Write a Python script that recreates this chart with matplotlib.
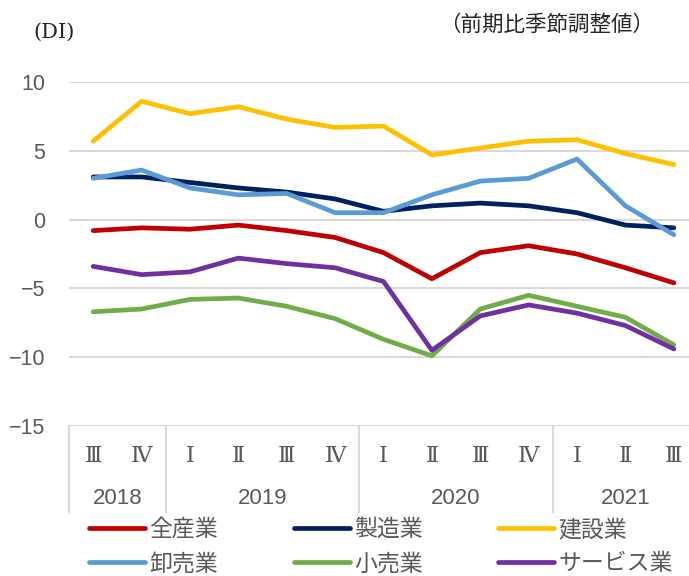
import numpy as np
import matplotlib
matplotlib.use("Agg")
from matplotlib import pyplot as plt

# quarters 2018 III .. 2021 III
quarters = ["Ⅲ", "Ⅳ", "Ⅰ", "Ⅱ", "Ⅲ", "Ⅳ", "Ⅰ", "Ⅱ", "Ⅲ", "Ⅳ", "Ⅰ", "Ⅱ", "Ⅲ"]
years = ["2018", "2019", "2020", "2021"]
year_centers = [0.5, 3.5, 7.5, 11.0]
year_bounds = [-0.5, 1.5, 5.5, 9.5]

all_ind = [-0.8, -0.6, -0.7, -0.4, -0.8, -1.3, -2.4, -4.3, -2.4, -1.9, -2.5, -3.5, -4.6]
manuf = [3.1, 3.1, 2.7, 2.3, 2.0, 1.5, 0.6, 1.0, 1.2, 1.0, 0.5, -0.4, -0.6]
constr = [5.7, 8.6, 7.7, 8.2, 7.3, 6.7, 6.8, 4.7, 5.2, 5.7, 5.8, 4.8, 4.0]
wholesale = [3.0, 3.6, 2.3, 1.8, 1.9, 0.5, 0.5, 1.8, 2.8, 3.0, 4.4, 1.0, -1.1]
retail = [-6.7, -6.5, -5.8, -5.7, -6.3, -7.2, -8.7, -9.9, -6.5, -5.5, -6.3, -7.1, -9.1]
service = [-3.4, -4.0, -3.8, -2.8, -3.2, -3.5, -4.5, -9.5, -7.0, -6.2, -6.8, -7.7, -9.4]

series = [
    ("全産業", all_ind, "#C00000"),
    ("製造業", manuf, "#002060"),
    ("建設業", constr, "#FFC000"),
    ("卸売業", wholesale, "#5B9BD5"),
    ("小売業", retail, "#70AD47"),
    ("サービス業", service, "#7030A0"),
]

JP = ["Noto Sans CJK JP", "DejaVu Sans"]
NUM = ["Liberation Sans Narrow", "Liberation Sans", "DejaVu Sans"]
GRAY = "#595959"
GRID = "#d9d9d9"

W, H = 689, 576
fig = plt.figure(figsize=(W / 100, H / 100), dpi=100)
ax = fig.add_axes([69 / W, 1 - 426 / H, 629 / W, 344 / H])

x = np.arange(len(quarters))
handles = {}
for name, vals, col in series:
    ln, = ax.plot(x, vals, color=col, lw=3.4, solid_capstyle="round",
                  solid_joinstyle="round", label=name, zorder=3)
    handles[name] = ln

ax.set_xlim(-0.5, 12.5)
ax.set_ylim(-15, 10)
ax.set_yticks([-15, -10, -5, 0, 5, 10])
ax.set_yticklabels(["−15", "−10", "−5", "0", "5", "10"], family=NUM,
                   fontsize=15.5, color=GRAY)
ax.tick_params(axis="y", length=0, pad=17)
ax.set_xticks([])
ax.grid(axis="y", color=GRID, lw=1.5, zorder=0)
ax.set_axisbelow(True)
for s in ax.spines.values():
    s.set_visible(False)

# category area under the plot
tr = ax.get_xaxis_transform()
sep_bottom = -(512 - 426) / 344
for b in year_bounds:
    ax.plot([b, b], [0, sep_bottom], color=GRID, lw=1.5, transform=tr,
            clip_on=False)
for i, q in enumerate(quarters):
    ax.text(i, -(456 - 426) / 344, q, transform=tr, ha="center", va="center",
            family=["DejaVu Serif", "Noto Sans CJK JP"], fontsize=16,
            color=GRAY)
for yc, yr in zip(year_centers, years):
    ax.text(yc, -(498 - 426) / 344, yr, transform=tr, ha="center",
            va="center", family=NUM, fontsize=16, color=GRAY)

fig.text(33 / W, 1 - 32 / H, "(DI)", ha="left", va="center",
         family=["DejaVu Serif"], fontsize=15, color="#262626")
fig.text(439 / W, 1 - 25 / H, "（前期比季節調整値）", ha="left", va="center",
         family=JP, fontsize=15.5, color="#262626")

order = ["全産業", "卸売業", "製造業", "小売業", "建設業", "サービス業"]
leg = fig.legend([handles[n] for n in order], order, ncol=3,
                 loc="upper left", bbox_to_anchor=(89 / W, 1 - 518 / H),
                 frameon=False, prop={"family": JP, "size": 16.5},
                 handlelength=2.45, handletextpad=0.18, columnspacing=3.3,
                 labelspacing=0.5, borderaxespad=0, borderpad=0)
for t in leg.get_texts():
    t.set_color(GRAY)

fig.savefig("out.png", dpi=100)
